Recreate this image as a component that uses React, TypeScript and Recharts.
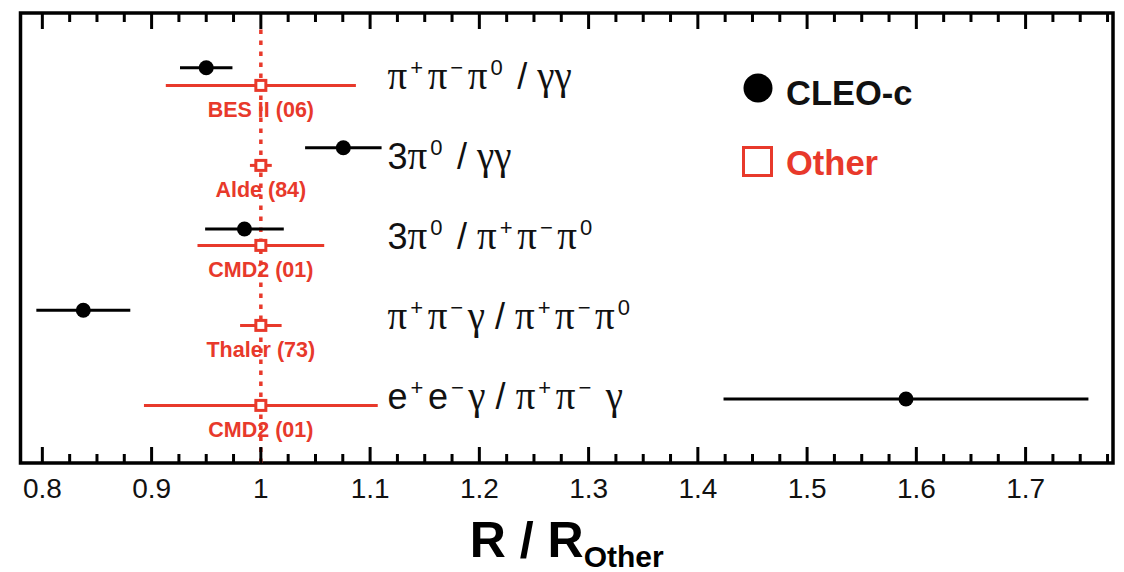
import React from 'react';
import { ScatterChart, Scatter, XAxis, YAxis, ErrorBar, ReferenceLine, ReferenceArea, Legend } from 'recharts';

// ---------- data ----------
const decayLabels = [
  'π^{+}π^{−}π^{0} / γγ',
  '3π^{0} / γγ',
  '3π^{0} / π^{+}π^{−}π^{0}',
  'π^{+}π^{−}γ / π^{+}π^{−}π^{0}',
  'e^{+}e^{−}γ / π^{+}π^{−} γ',
];
const otherLabels = ['BES II (06)', 'Alde (84)', 'CMD2 (01)', 'Thaler (73)', 'CMD2 (01)'];
const cleoValues = [0.950, 1.0755, 0.985, 0.8375, 1.5905];
const cleoErrors = [0.024, 0.035, 0.036, 0.043, 0.167];
const cleoRowY = [4.94, 3.94, 2.925, 1.91, 0.8];
const otherValues = [1, 1, 1, 1, 1];
const otherErrors = [0.087, 0.01, 0.058, 0.019, 0.107];
const otherRowY = [4.72, 3.72, 2.72, 1.72, 0.72];
const majorTicks = [0.8, 0.9, 1, 1.1, 1.2, 1.3, 1.4, 1.5, 1.6, 1.7];
const xDomain: [number, number] = [0.78, 1.78];
const yDomain: [number, number] = [0, 5.625];
const labelColumnX = 1.116;
const unityLineTop = 5.44;

// ---------- styling ----------
const RED = '#e8392b';
const SANS = '"Liberation Sans", Arial, Helvetica, sans-serif';
const GREEK = '"Liberation Serif", "DejaVu Serif", serif';
const MAJOR_LEN = 16;
const MINOR_LEN = 9;

const allTicks: number[] = [];
for (let i = 0; i < majorTicks.length; i++) {
  for (let k = 0; k < 4; k++) {
    const v = Math.round((majorTicks[i] + k * 0.025) * 1000) / 1000;
    if (v >= xDomain[0] && v <= xDomain[1]) allTicks.push(v);
  }
}
const isMajor = (v: number) => majorTicks.some((m) => Math.abs(m - v) < 1e-6);

const cleoData = cleoValues.map((v, i) => ({ x: v, y: cleoRowY[i], err: cleoErrors[i] }));
const otherData = otherValues.map((v, i) => ({ x: v, y: otherRowY[i], err: otherErrors[i], name: otherLabels[i] }));
const labelData = decayLabels.map((t, i) => ({ x: labelColumnX, y: otherRowY[i], label: t }));
const tickData = allTicks.map((t) => ({ x: t, y: yDomain[0], major: isMajor(t) }));

function renderMarkup(s: string) {
  const parts: React.ReactNode[] = [];
  const re = /\^\{([^}]*)\}/g;
  let last = 0;
  let m: RegExpExecArray | null;
  let key = 0;
  let pendingDy = 0;
  let pendingDx = 0;
  const pushNormal = (txt: string) => {
    for (const ch of Array.from(txt)) {
      const greek = ch === 'π' || ch === 'γ';
      parts.push(
        <tspan
          key={key++}
          dy={pendingDy || undefined}
          dx={pendingDx || undefined}
          fontFamily={greek ? GREEK : SANS}
          fontSize={greek ? 39 : 36}
        >
          {ch}
        </tspan>
      );
      pendingDy = 0;
      pendingDx = 0;
    }
  };
  while ((m = re.exec(s)) !== null) {
    pushNormal(s.slice(last, m.index));
    parts.push(
      <tspan key={key++} dy={-14 + pendingDy} dx={3 + pendingDx} fontSize={22} fontFamily={SANS}>
        {m[1]}
      </tspan>
    );
    pendingDy = 14;
    pendingDx = 4.5;
    last = m.index + m[0].length;
  }
  pushNormal(s.slice(last));
  return parts;
}

const BottomTickLabel = (props: any) => {
  const { x, y, payload } = props;
  const v = payload.value;
  if (!isMajor(v)) return <g />;
  return (
    <text x={x} y={y + 35} textAnchor="middle" fontSize={28} fontFamily={SANS} fill="#111">
      {String(v)}
    </text>
  );
};

// inward tick marks on the bottom edge, mirrored to the top edge
const TickMark = (props: any) => {
  const { cx, cy, plotTop } = props;
  const major = props.major ?? props.payload?.major ?? false;
  const len = major ? MAJOR_LEN : MINOR_LEN;
  return (
    <g>
      <line x1={cx} y1={cy} x2={cx} y2={cy - len} stroke="#000" strokeWidth={3} />
      <line x1={cx} y1={plotTop} x2={cx} y2={plotTop + len} stroke="#000" strokeWidth={3} />
    </g>
  );
};

const CleoDot = (props: any) => <circle cx={props.cx} cy={props.cy} r={7.5} fill="#000" />;

const OtherSquare = (props: any) => {
  const { cx, cy, payload } = props;
  return (
    <g>
      <rect x={cx - 5} y={cy - 5} width={10} height={10} fill="#fff" stroke={RED} strokeWidth={3} />
      <text x={cx} y={cy + 32} textAnchor="middle" fontSize={21.5} fontWeight="bold" fontFamily={SANS} fill={RED}>
        {payload.name}
      </text>
    </g>
  );
};

const DecayLabel = (props: any) => {
  const { cx, cy, payload } = props;
  return (
    <text x={cx} y={cy + 4} fill="#111" fontFamily={SANS} fontSize={36}>
      {renderMarkup(payload.label)}
    </text>
  );
};

const LegendBox = () => (
  <div style={{ position: 'relative', width: 220, height: 120, fontFamily: SANS, fontWeight: 'bold', fontSize: 34.5, lineHeight: '33px' }}>
    <svg style={{ position: 'absolute', left: 0, top: 0 }} width={34} height={34}>
      <circle cx={16} cy={16} r={14.5} fill="#000" />
    </svg>
    <span style={{ position: 'absolute', left: 44, top: 5, color: '#111', whiteSpace: 'nowrap' }}>CLEO-c</span>
    <svg style={{ position: 'absolute', left: 0, top: 74 }} width={34} height={34}>
      <rect x={1.5} y={1.5} width={28} height={28} fill="none" stroke={RED} strokeWidth={3} />
    </svg>
    <span style={{ position: 'absolute', left: 44, top: 75, color: RED, whiteSpace: 'nowrap' }}>Other</span>
  </div>
);

const AxisTitle = (props: any) => {
  const vb = props.viewBox || { x: 0, y: 0, width: 0 };
  return (
    <text x={vb.x + vb.width / 2} y={vb.y + 94} textAnchor="middle" fontFamily={SANS} fontWeight="bold" fill="#000">
      <tspan fontSize={50}>R / R</tspan>
      <tspan fontSize={30} dy={10}>Other</tspan>
    </text>
  );
};

const MARGIN = { top: 5, right: 11, bottom: 9, left: 12.5 };

export default function App() {
  return (
    <div style={{ width: 1116, height: 564 }}>
      <ScatterChart width={1116} height={564} margin={MARGIN}>
        <XAxis
          xAxisId="bottom"
          type="number"
          dataKey="x"
          domain={xDomain}
          ticks={allTicks}
          interval={0}
          allowDataOverflow
          orientation="bottom"
          height={100}
          tickSize={0}
          tickMargin={0}
          tickLine={false}
          tick={<BottomTickLabel />}
          axisLine={false}
          label={{ content: <AxisTitle /> }}
        />
        <YAxis yAxisId="left" type="number" dataKey="y" domain={yDomain} allowDataOverflow hide />
        <ReferenceArea
          xAxisId="bottom"
          yAxisId="left"
          x1={xDomain[0]}
          x2={xDomain[1]}
          y1={yDomain[0]}
          y2={yDomain[1]}
          fill="none"
          fillOpacity={0}
          stroke="#000"
          strokeWidth={3.5}
          ifOverflow="visible"
        />
        <ReferenceLine
          xAxisId="bottom"
          yAxisId="left"
          segment={[{ x: 1, y: 0 }, { x: 1, y: unityLineTop }]}
          stroke={RED}
          strokeWidth={3.5}
          strokeDasharray="4.5 6.5"
          ifOverflow="visible"
        />
        <Scatter xAxisId="bottom" yAxisId="left" data={tickData} shape={<TickMark plotTop={MARGIN.top} />} isAnimationActive={false} legendType="none" />
        <Scatter xAxisId="bottom" yAxisId="left" data={labelData} shape={<DecayLabel />} isAnimationActive={false} legendType="none" />
        <Scatter xAxisId="bottom" yAxisId="left" data={otherData} shape={<OtherSquare />} isAnimationActive={false} name="Other">
          <ErrorBar dataKey="err" direction="x" width={0} stroke={RED} strokeWidth={3} />
        </Scatter>
        <Scatter xAxisId="bottom" yAxisId="left" data={cleoData} shape={<CleoDot />} isAnimationActive={false} name="CLEO-c">
          <ErrorBar dataKey="err" direction="x" width={0} stroke="#000" strokeWidth={3} />
        </Scatter>
        <Legend
          layout="vertical"
          align="center"
          verticalAlign="middle"
          wrapperStyle={{ left: 734, top: 64, width: 220, height: 120 }}
          content={() => <LegendBox />}
        />
      </ScatterChart>
    </div>
  );
}
